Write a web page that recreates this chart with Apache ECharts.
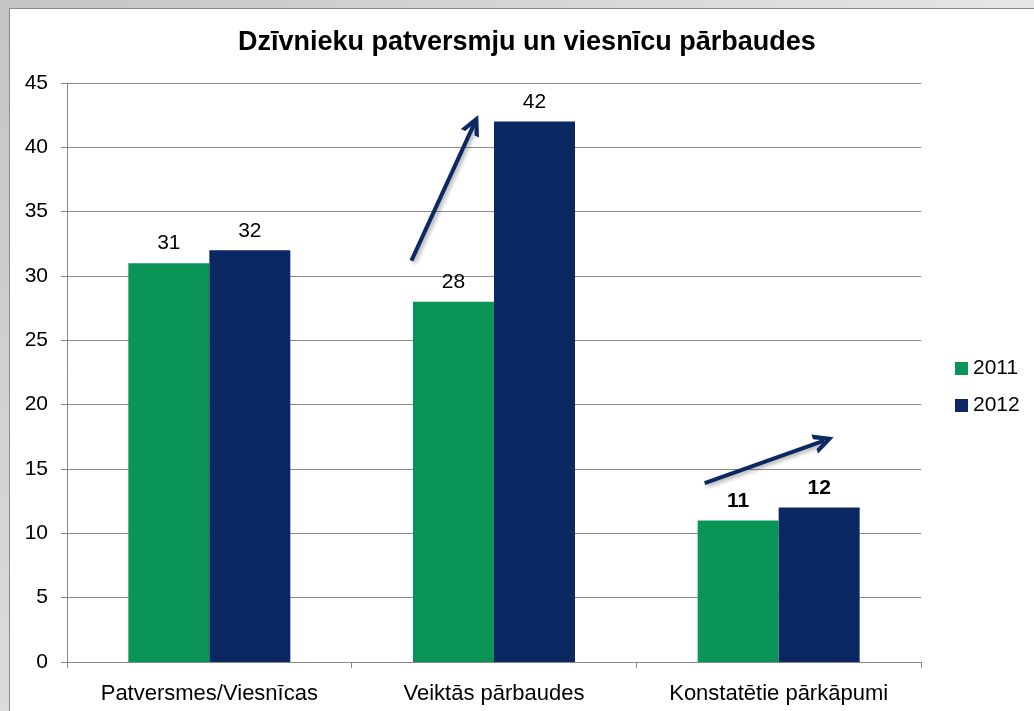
<!DOCTYPE html>
<html>
<head>
<meta charset="utf-8">
<script src="https://cdn.jsdelivr.net/npm/echarts@6/dist/echarts.min.js"></script>
<style>
  html, body { margin: 0; padding: 0; width: 1034px; height: 711px; overflow: hidden; }
  body { background: linear-gradient(135deg, #c4c4c4 0%, #e6e6e6 60%, #f0f0f0 100%); }
  #main {
    position: absolute; left: 9px; top: 8px; width: 1025px; height: 703px;
    background: #fff; border-left: 1px solid #8a8a8a; border-top: 1px solid #8a8a8a;
    box-sizing: border-box;
  }
</style>
</head>
<body>
<div id="main"></div>
<script>
var categories = ['Patversmes/Viesnīcas', 'Veiktās pārbaudes', 'Konstatētie pārkāpumi'];
var years = ['2011', '2012'];
var values2011 = [31, 28, 11];
var values2012 = [32, 42, 12];
var boldLabels = [false, false, true];
var yTicks = [0, 45, 5]; // min, max, step
// trend arrows in [category position, value] (category position 0..3)
var arrowUp = [[1.21, 31.2], [1.43, 41.8]];
var arrowRight = [[2.24, 13.9], [2.66, 17.2]];

var green = '#0a9458';
var navy = '#0b2862';

function barData(vals) {
  return vals.map(function (v, i) {
    return {
      value: v,
      label: { fontWeight: boldLabels[i] ? 'bold' : 'normal' }
    };
  });
}

var chart = echarts.init(document.getElementById('main'));
var labelStyle = { show: true, position: 'top', distance: 9, color: '#000', fontSize: 21, fontFamily: 'Liberation Sans' };

chart.setOption({
  animation: false,
  textStyle: { fontFamily: 'Liberation Sans' },
  title: {
    text: 'Dzīvnieku patversmju un viesnīcu pārbaudes',
    left: 223, top: 15,
    textStyle: { fontSize: 27, fontWeight: 'bold', color: '#000', fontFamily: 'Liberation Sans' }
  },
  legend: {
    orient: 'vertical', left: 940, top: 344,
    itemWidth: 13, itemHeight: 13, itemGap: 16,
    icon: 'rect',
    data: years,
    textStyle: { fontSize: 21, color: '#000' }
  },
  grid: { left: 57, right: 113, top: 74, bottom: 49, containLabel: false },
  xAxis: [{
    type: 'category',
    data: categories,
    axisLine: { lineStyle: { color: '#888', width: 1 } },
    axisTick: { show: true, length: 6, lineStyle: { color: '#888' } },
    axisLabel: { color: '#000', fontSize: 22, margin: 21 }
  }, {
    type: 'value', min: 0, max: 3, show: false
  }],
  yAxis: {
    type: 'value', min: yTicks[0], max: yTicks[1], interval: yTicks[2],
    axisLine: { show: true, lineStyle: { color: '#888' } },
    axisTick: { show: true, length: 6, lineStyle: { color: '#888' } },
    axisLabel: { color: '#000', fontSize: 21, margin: 19 },
    splitLine: { lineStyle: { color: '#8c8c8c', width: 1 } }
  },
  series: [{
    name: years[0], type: 'bar', data: barData(values2011),
    barWidth: 81, barGap: '0%',
    itemStyle: { color: green },
    label: labelStyle
  }, {
    name: years[1], type: 'bar', data: barData(values2012),
    barWidth: 81, barGap: '0%',
    itemStyle: { color: navy },
    label: labelStyle
  }, {
    type: 'lines', coordinateSystem: 'cartesian2d', xAxisIndex: 1, yAxisIndex: 0,
    symbol: ['none', 'path://M0,10 L5,0 L10,10 L7.6,10 L5,4.6 L2.4,10 Z'], symbolSize: 20, silent: true,
    lineStyle: { color: navy, width: 4, opacity: 1, shadowColor: 'rgba(0,0,0,0.35)', shadowBlur: 4, shadowOffsetX: 2, shadowOffsetY: 2 },
    data: [{ coords: arrowUp }, { coords: arrowRight }],
    z: 5
  }]
});
</script>
</body>
</html>
